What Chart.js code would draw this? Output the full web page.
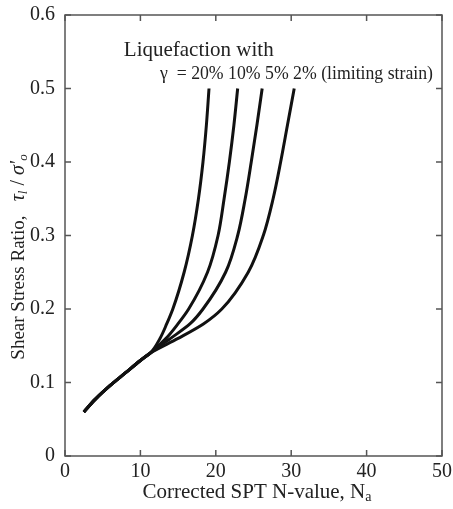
<!DOCTYPE html>
<html>
<head>
<meta charset="utf-8">
<script src="https://cdn.jsdelivr.net/npm/chart.js@4"></script>
<style>
html, body { margin: 0; padding: 0; background: #fff; }
#wrap { width: 453px; height: 509px; }
</style>
</head>
<body>
<div id="wrap"><canvas id="chart"></canvas></div>
<script>
// limiting strain of each curve
const strainLabels = ['20%', '10%', '5%', '2%'];

// common lower part shared by all curves (ratio -> N)
const trunkRatio = [0.06, 0.077, 0.096, 0.113, 0.13];
const trunkN = [2.5, 4, 6, 8, 10];

// upper branches, one per strain level, read at these ratio levels
const branchRatio = [0.14, 0.16, 0.18, 0.2, 0.25, 0.3, 0.35, 0.4, 0.45, 0.5];
const branchN20 = [11.3, 12.6, 13.5, 14.3, 15.8, 16.9, 17.7, 18.3, 18.75, 19.1];
const branchN10 = [11.3, 13.4, 15.0, 16.4, 18.9, 20.3, 21.1, 21.8, 22.4, 22.9];
const branchN5 = [11.3, 14.0, 16.6, 18.3, 21.3, 22.9, 23.9, 24.7, 25.45, 26.15];
const branchN2 = [11.3, 15.0, 18.4, 20.8, 24.3, 26.3, 27.6, 28.6, 29.5, 30.4];
const branches = [branchN20, branchN10, branchN5, branchN2];

const xTicks = [0, 10, 20, 30, 40, 50];
const yTicks = [0, 0.1, 0.2, 0.3, 0.4, 0.5, 0.6];

const FONT = '"Liberation Serif", "Times New Roman", serif';

function buildPoints(branch) {
    const pts = [];
    trunkRatio.forEach((v, k) => pts.push({x: trunkN[k], y: v}));
    branchRatio.forEach((v, k) => pts.push({x: branch[k], y: v}));
    return pts;
}

const datasets = strainLabels.map((label, i) => ({
    label: label,
    data: buildPoints(branches[i]),
    borderColor: '#111',
    borderWidth: 3,
    pointRadius: 0,
    fill: false,
    cubicInterpolationMode: 'monotone'
}));

// draw text pieces in sequence, some with subscripts
function drawRuns(ctx, runs, x, y) {
    runs.forEach(r => {
        ctx.font = r.font;
        const dy = r.sub ? 5 : 0;
        ctx.fillText(r.text, x, y + dy);
        x += ctx.measureText(r.text).width;
    });
    return x;
}
function runsWidth(ctx, runs) {
    let w = 0;
    runs.forEach(r => { ctx.font = r.font; w += ctx.measureText(r.text).width; });
    return w;
}

const framePlugin = {
    id: 'frame',
    afterDraw(chart) {
        const ctx = chart.ctx;
        const a = chart.chartArea;
        const xs = chart.scales.x, ys = chart.scales.y;
        ctx.save();
        ctx.strokeStyle = '#555';
        ctx.lineWidth = 1.5;
        ctx.strokeRect(a.left, a.top, a.right - a.left, a.bottom - a.top);
        const t = 6;
        ctx.beginPath();
        xTicks.forEach(v => {
            const px = xs.getPixelForValue(v);
            ctx.moveTo(px, a.bottom); ctx.lineTo(px, a.bottom - t);
            ctx.moveTo(px, a.top); ctx.lineTo(px, a.top + t);
        });
        yTicks.forEach(v => {
            const py = ys.getPixelForValue(v);
            ctx.moveTo(a.left, py); ctx.lineTo(a.left + t, py);
            ctx.moveTo(a.right, py); ctx.lineTo(a.right - t, py);
        });
        ctx.stroke();

        ctx.fillStyle = '#222';
        ctx.textBaseline = 'middle';
        ctx.textAlign = 'left';

        // x axis title
        const xr = [
            {text: 'Corrected SPT N-value, N', font: '21px ' + FONT},
            {text: 'a', font: '14px ' + FONT, sub: true}
        ];
        const xw = runsWidth(ctx, xr);
        drawRuns(ctx, xr, 257 - xw / 2, 492);

        // y axis title
        const yr = [
            {text: 'Shear Stress Ratio,   ', font: '19px ' + FONT},
            {text: 'τ', font: 'italic 20px ' + FONT},
            {text: 'l', font: 'italic 13px ' + FONT, sub: true},
            {text: ' / ', font: '20px ' + FONT},
            {text: 'σ\'', font: 'italic 20px ' + FONT},
            {text: 'o', font: 'italic 13px ' + FONT, sub: true}
        ];
        const yw = runsWidth(ctx, yr);
        ctx.save();
        ctx.translate(19, 257);
        ctx.rotate(-Math.PI / 2);
        drawRuns(ctx, yr, -yw / 2, 0);
        ctx.restore();

        // annotation
        ctx.font = '21px ' + FONT;
        ctx.fillText('Liquefaction with', xs.getPixelForValue(7.8), ys.getPixelForValue(0.552));
        const line2 = 'γ  = ' + strainLabels.join(' ') + ' (limiting strain)';
        ctx.font = '18px ' + FONT;
        const w2 = ctx.measureText(line2).width;
        const x0 = xs.getPixelForValue(12.6);
        const target = xs.getPixelForValue(48.8) - x0;
        ctx.save();
        ctx.translate(x0, ys.getPixelForValue(0.52));
        ctx.scale(target / w2, 1);
        ctx.fillText(line2, 0, 0);
        ctx.restore();

        ctx.restore();
    }
};

new Chart(document.getElementById('chart'), {
    type: 'line',
    data: {datasets: datasets},
    options: {
        indexAxis: 'y',
        responsive: true,
        maintainAspectRatio: false,
        animation: false,
        layout: {padding: {top: 15, right: 11, left: 0, bottom: 0}},
        plugins: {legend: {display: false}, tooltip: {enabled: false}},
        scales: {
            x: {
                type: 'linear',
                position: 'bottom',
                min: 0, max: 50,
                afterFit: s => { s.height = 53; s.paddingLeft = 0; s.paddingRight = 0; },
                afterBuildTicks: s => { s.ticks = xTicks.map(v => ({value: v})); },
                grid: {display: false, drawTicks: false},
                border: {display: false},
                ticks: {color: '#222', padding: 4, font: {family: FONT, size: 20}}
            },
            y: {
                type: 'linear',
                position: 'left',
                min: 0, max: 0.6,
                afterFit: s => { s.width = 65; s.paddingTop = 0; s.paddingBottom = 0; },
                afterBuildTicks: s => { s.ticks = yTicks.map(v => ({value: v})); },
                grid: {display: false, drawTicks: false},
                border: {display: false},
                ticks: {
                    color: '#222', padding: 10, font: {family: FONT, size: 20},
                    callback: v => v === 0 ? '0' : v.toFixed(1)
                }
            }
        }
    },
    plugins: [framePlugin]
});
</script>
</body>
</html>
